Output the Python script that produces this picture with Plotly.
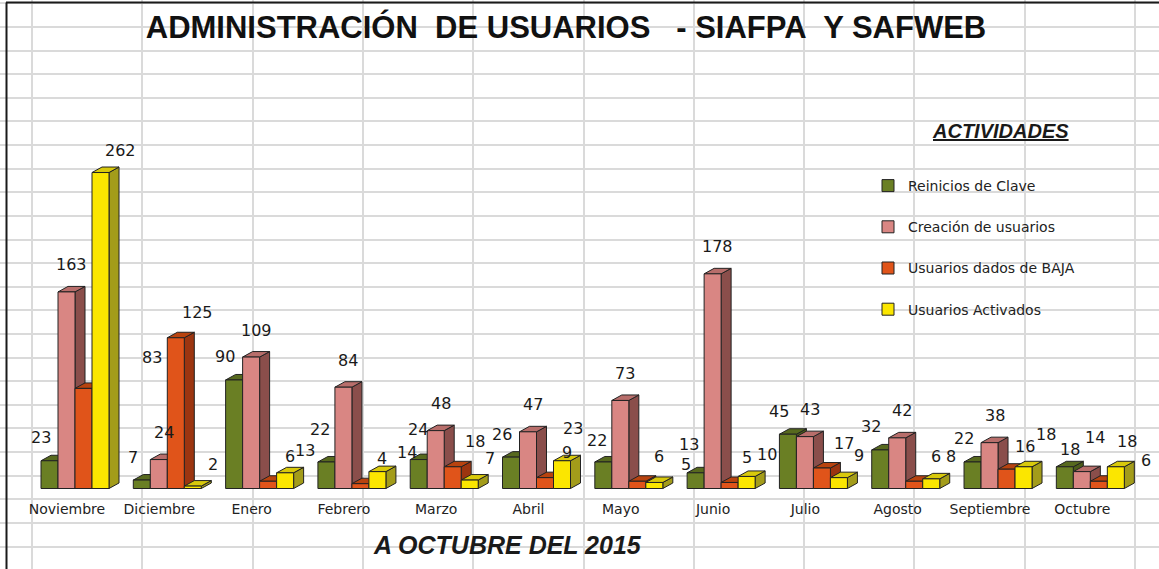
import plotly.graph_objects as go

# ---------------- data ----------------
months = ["Noviembre", "Diciembre", "Enero", "Febrero", "Marzo", "Abril",
          "Mayo", "Junio", "Julio", "Agosto", "Septiembre", "Octubre"]
reinicios = [23, 7, 90, 22, 24, 26, 22, 13, 45, 32, 22, 18]
creacion = [163, 24, 109, 84, 48, 47, 73, 178, 43, 42, 38, 14]
bajas = [83, 125, 6, 4, 18, 9, 6, 5, 17, 6, 16, 6]
activados = [262, 2, 13, 14, 7, 23, 5, 10, 9, 8, 18, 18]
series_names = ["Reinicios de Clave", "Creación de usuarios",
                "Usuarios dados de BAJA", "Usuarios Activados"]
series_values = [reinicios, creacion, bajas, activados]

# ---------------- styling / geometry ----------------
W, H = 1159, 569
X0, X1 = -0.8126, 11.744
Y0, Y1 = -66.75, 405.06
PX_X = W / (X1 - X0)
PX_Y = H / (Y1 - Y0)

BAR_W = 17 / PX_X
DX = 10 / PX_X
DY = 5.5 / PX_Y

FRONT = ["#6a7f24", "#d98683", "#e0541a", "#fbe600"]
SIDE = ["#4b5b19", "#8a4e4b", "#9c3510", "#a39c1a"]
TOP = ["#57691e", "#b86e6b", "#b8430f", "#d8c90c"]
EDGE = "#222222"
FONT = "Liberation Sans, Arial, sans-serif"
WIDE = "DejaVu Sans, Liberation Sans, sans-serif"

# label offsets in px (relative to front-face centre / top)
LBL_DX = [-9, 5, 22, 20]
LBL_DY = [23, 27, 25, 22]
# labels that were moved by hand in the original
NUDGE = {(2, 0): (46, 6), (3, 5): (-9, 10), (2, 10): (-4, -2), (3, 10): (2, 10),
         (2, 11): (25, -4), (3, 11): (-9, 3), (2, 7): (-5, 0),
         (0, 11): (14, -6), (0, 3): (3, 9), (0, 4): (8, 7), (3, 3): (10, -3),
         (3, 6): (12, -4), (0, 7): (2, 5), (1, 11): (8, 7), (0, 6): (3, -2)}

fig = go.Figure()
side_shapes, top_shapes = [], []
annotations = []

for s, (name, vals) in enumerate(zip(series_names, series_values)):
    xs = [i + (s - 1.5) * BAR_W for i in range(len(months))]
    fig.add_trace(go.Bar(
        x=xs, y=vals, width=BAR_W, name=name, legendgroup=name,
        marker=dict(color=FRONT[s], line=dict(color=EDGE, width=1)),
        hoverinfo="skip",
    ))
    for i, (xc, v) in enumerate(zip(xs, vals)):
        xl, xr = xc - BAR_W / 2, xc + BAR_W / 2
        side_shapes.append(dict(
            type="path", xref="x", yref="y", layer="between",
            path=f"M{xr},0 L{xr + DX},{DY} L{xr + DX},{v + DY} L{xr},{v} Z",
            fillcolor=SIDE[s], line=dict(color=EDGE, width=1)))
        top_shapes.append(dict(
            type="path", xref="x", yref="y", layer="between",
            path=f"M{xl},{v} L{xr},{v} L{xr + DX},{v + DY} L{xl + DX},{v + DY} Z",
            fillcolor=TOP[s], line=dict(color=EDGE, width=1)))
        ddx, ddy = NUDGE.get((s, i), (0, 0))
        annotations.append(dict(
            x=xc, y=v, xref="x", yref="y", text=str(v), showarrow=False,
            xanchor="center", yanchor="middle",
            xshift=LBL_DX[s] + ddx, yshift=LBL_DY[s] + ddy,
            font=dict(family=WIDE, size=16, color="#1a1a1a")))

shapes = side_shapes + top_shapes

# sheet frame
shapes.append(dict(type="line", xref="paper", yref="paper", x0=6 / W, x1=1,
                   y0=1 - 2.5 / H, y1=1 - 2.5 / H, line=dict(color="#1a1a1a", width=2),
                   layer="above"))
shapes.append(dict(type="line", xref="paper", yref="paper", x0=6.5 / W, x1=6.5 / W,
                   y0=0, y1=1 - 2.5 / H, line=dict(color="#1a1a1a", width=2),
                   layer="above"))

# subtitle and legend heading
annotations.append(dict(
    x=507 / W, y=1 - 545 / H, xref="paper", yref="paper", showarrow=False,
    xanchor="center", yanchor="middle",
    text="<b><i>A OCTUBRE DEL 2015</i></b>",
    font=dict(family=FONT, size=25, color="#1a1a1a")))
annotations.append(dict(
    x=1000 / W, y=1 - 131 / H, xref="paper", yref="paper", showarrow=False,
    xanchor="center", yanchor="middle",
    text="<b><i><u>ACTIVIDADES</u></i></b>",
    font=dict(family=FONT, size=20, color="#1a1a1a")))

fig.update_layout(
    width=W, height=H,
    margin=dict(l=0, r=0, t=0, b=0),
    paper_bgcolor="white", plot_bgcolor="white",
    barmode="overlay",
    title=dict(
        text="<b>ADMINISTRACIÓN\u00a0 DE USUARIOS\u00a0\u00a0 - SIAFPA\u00a0 Y SAFWEB</b>",
        x=566 / W, xanchor="center", y=1 - 27 / H, yanchor="middle",
        yref="container", xref="container",
        font=dict(family=FONT, size=31, color="#111111")),
    xaxis=dict(
        range=[X0, X1], anchor="free", position=1 - 499 / H,
        tickmode="array", tickvals=[i - 0.087 for i in range(len(months))],
        ticktext=months, ticks="", showgrid=False, zeroline=False, showline=False,
        tickfont=dict(family=WIDE, size=14, color="#222222"),
        minor=dict(tickmode="linear", tick0=X0 + 32 / PX_X, dtick=110.3 / PX_X,
                   showgrid=True, gridcolor="#dadada", gridwidth=2, ticks=""),
        fixedrange=True,
    ),
    yaxis=dict(
        range=[Y0, Y1], tickmode="linear", tick0=Y1 - 475.7 / PX_Y,
        dtick=23.62 / PX_Y, showgrid=True, gridcolor="#dadada", gridwidth=2,
        showticklabels=False, zeroline=False, showline=False, ticks="",
        fixedrange=True,
    ),
    legend=dict(
        x=868 / W, xanchor="left", y=1 - 170 / H, yanchor="top",
        bgcolor="rgba(0,0,0,0)", tracegroupgap=20,
        font=dict(family=WIDE, size=14, color="#222222"),
    ),
    shapes=shapes,
    annotations=annotations,
    showlegend=True,
)

fig.write_html("out.html",
               config={"displayModeBar": False},
               post_script="document.body.style.margin='0';"
                           "document.body.style.overflow='hidden';")
